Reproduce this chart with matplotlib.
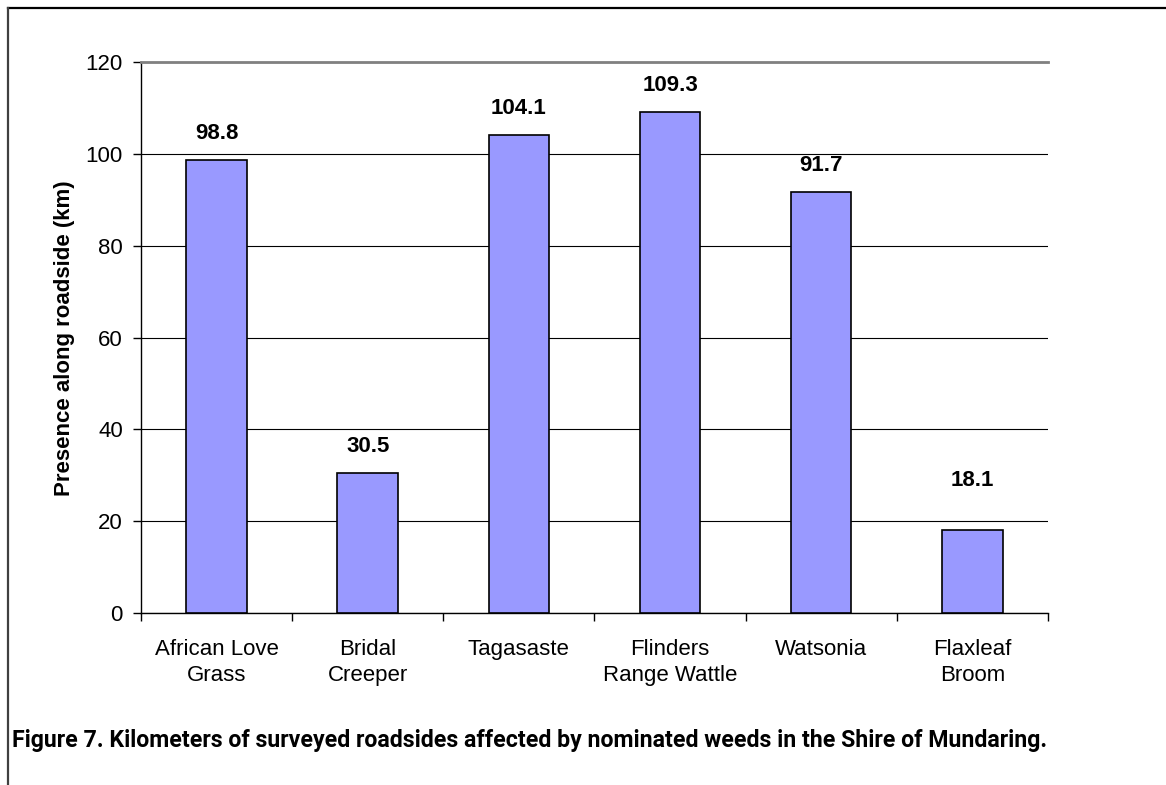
import matplotlib.pyplot as plt
from matplotlib.lines import Line2D
import numpy as np

# data
weeds = ['African Love\nGrass', 'Bridal\nCreeper', 'Tagasaste',
         'Flinders\nRange Wattle', 'Watsonia', 'Flaxleaf\nBroom']
km = [98.8, 30.5, 104.1, 109.3, 91.7, 18.1]
label_gap = [11.5, 11.5, 11.5, 11.5, 11.5, 28]  # points above bar top

plt.rcParams['font.family'] = ['Liberation Sans', 'DejaVu Sans']

fig = plt.figure(figsize=(11.66, 7.85), dpi=100)
ax = fig.add_axes([0.1209, 0.2191, 0.7779, 0.7013])

x = np.arange(len(weeds))
bars = ax.bar(x, km, width=0.4, color='#9999FF', edgecolor='black', linewidth=1.2, zorder=3)

for b, v, g in zip(bars, km, label_gap):
    ax.annotate(f'{v:.1f}', (b.get_x() + b.get_width() / 2, v), xytext=(0, g),
                textcoords='offset points', ha='center', va='bottom',
                fontsize=16, fontweight='bold')

ax.set_xlim(-0.5, len(weeds) - 0.5)
ax.set_ylim(0, 120)
ax.set_yticks(range(0, 121, 20))
ax.tick_params(axis='y', labelsize=16, length=6, width=1, pad=7)

ax.set_xticks(x)
ax.set_xticklabels(weeds, fontsize=16, linespacing=1.3)
ax.set_xticks(np.arange(-0.5, len(weeds)), minor=True)
ax.tick_params(axis='x', which='major', length=0, pad=19)
ax.tick_params(axis='x', which='minor', length=6, width=1)

ax.yaxis.grid(True, color='black', linewidth=0.8, zorder=0)
ax.set_axisbelow(True)
ax.spines['right'].set_visible(False)
ax.spines['top'].set_color('#808080')
ax.spines['top'].set_linewidth(2)
for s in ('left', 'bottom'):
    ax.spines[s].set_linewidth(1)

ax.set_ylabel('Presence along roadside (km)', fontsize=16, fontweight='bold')
ax.yaxis.set_label_coords(-0.073, 0.5)

# page frame (top and left rules)
fig.add_artist(Line2D([8 / 1166, 1], [1 - 8 / 785] * 2, color='black', linewidth=1.6))
fig.add_artist(Line2D([8 / 1166] * 2, [0, 1 - 8 / 785], color='#404040', linewidth=1.6))

fig.text(12 / 1166, 1 - 740 / 785,
         'Figure 7. Kilometers of surveyed roadsides affected by nominated weeds in the Shire of Mundaring.',
         fontsize=16.7, fontweight='bold', family=['Roboto', 'DejaVu Sans'], va='center', ha='left')

fig.savefig('out.png', dpi=100, facecolor='white')
